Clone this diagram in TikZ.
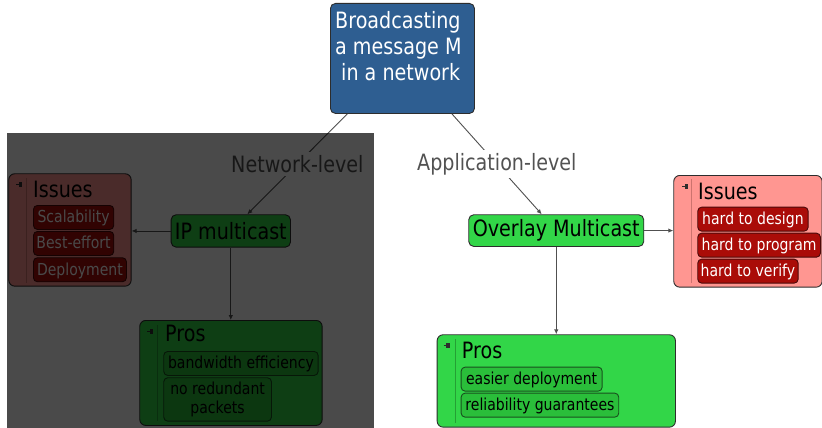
\documentclass[tikz,border=0pt]{standalone}
\usepackage{fontspec}
\setmainfont{DejaVu Sans}[FakeStretch=0.85]
\usetikzlibrary{arrows.meta}
\definecolor{rootblue}{RGB}{46,94,145}
\definecolor{mgreen}{RGB}{50,214,72}
\definecolor{igreen}{RGB}{42,190,58}
\definecolor{igreenb}{RGB}{25,80,30}
\definecolor{gline}{RGB}{36,160,52}
\definecolor{ipink}{RGB}{255,150,145}
\definecolor{pline}{RGB}{205,115,110}
\definecolor{ired}{RGB}{170,12,8}
\definecolor{iredb}{RGB}{75,10,10}
\definecolor{edgegrey}{RGB}{80,80,80}
\definecolor{bordergrey}{RGB}{45,45,45}
\definecolor{lblgrey}{RGB}{82,82,82}
\begin{document}
\begin{tikzpicture}[x=1pt,y=-1pt,
  bigfont/.style={font=\fontsize{22.5}{26}\selectfont},
  smallfont/.style={font=\fontsize{16.5}{18.5}\selectfont},
  mainbox/.style={draw=bordergrey, line width=0.9pt, rounded corners=5pt, inner sep=0pt, anchor=north west, bigfont},
  container/.style={draw=bordergrey, line width=0.9pt, rounded corners=6pt, inner sep=0pt, anchor=north west},
  itembase/.style={line width=0.9pt, rounded corners=4pt, inner sep=0pt, anchor=north west, smallfont},
  itemone/.style={itembase, text height=14pt, text depth=3pt, minimum height=24pt},
  reditem/.style={itemone, draw=iredb, fill=ired, text=white},
  greenitem/.style={itemone, draw=igreenb, fill=igreen, text=black},
  title/.style={anchor=base west, inner sep=0pt, bigfont},
  edge/.style={draw=edgegrey, line width=0.9pt, -{Latex[length=5pt,width=4.5pt]}},
  lbl/.style={fill=white, text=lblgrey, inner xsep=2pt, inner ysep=3pt, bigfont},
  mmicon/.pic={\fill[bordergrey] (-0.5,-2.5) rectangle (3,2.5); \draw[bordergrey, line width=1pt] (-3,0) -- (-0.5,0);}
]
\useasboundingbox (0,0) rectangle (822,428);
\fill[white] (0,0) rectangle (822,428);

% root
\node[mainbox, fill=rootblue, minimum width=144pt, minimum height=110pt] (root) at (330,3) {};
\node[anchor=north west, inner sep=0pt, align=left, text=white, bigfont] (roottext) at (335,11) {Broadcasting\\a message M\\\hspace*{6pt}in a network};

% level nodes
\node[mainbox, fill=mgreen, minimum width=119.3pt, minimum height=32.4pt] (ip) at (170.7,214.3) {IP multicast};
\node[mainbox, fill=mgreen, minimum width=175pt, minimum height=31.7pt] (ov) at (468.3,214.3) {Overlay Multicast};

\draw[edge] (root) -- node[lbl] (lnet) {Network-level} (ip);
\draw[edge] (root) -- node[lbl] (lapp) {Application-level} (ov);

% containers
\node[container, fill=ipink, minimum width=122.4pt, minimum height=112.4pt] (issL) at (8.3,173.3) {};
\node[container, fill=mgreen, minimum width=182.4pt, minimum height=105pt] (prosL) at (139.3,320) {};
\node[container, fill=ipink, minimum width=148.4pt, minimum height=111.7pt] (issR) at (673.3,175) {};
\node[container, fill=mgreen, minimum width=238.3pt, minimum height=92.4pt] (prosR) at (436.7,334.3) {};

\draw[edge] (ip.west) -- (ip.west -| issL.east);
\draw[edge] (ip.south) -- (ip.south |- prosL.north);
\draw[edge] (ov.east) -- (ov.east -| issR.west);
\draw[edge] (ov.south) -- (ov.south |- prosR.north);

% inner lines and icons
\draw[pline, line width=1pt] (26.7,178) -- (26.7,283);
\draw[gline, line width=1pt] (157.7,325) -- (157.7,421);
\draw[pline, line width=1pt] (691.7,179) -- (691.7,283);
\draw[gline, line width=1pt] (455,339) -- (455,423);
\pic at (19,184) {mmicon};
\pic at (150,331) {mmicon};
\pic at (685,186.7) {mmicon};
\pic at (446.7,345.7) {mmicon};

% titles
\node[title] (tissL) at (33,197) {Issues};
\node[title] (tprosL) at (165,341.7) {Pros};
\node[title] (tissR) at (698,199) {Issues};
\node[title] (tprosR) at (461.7,358.3) {Pros};

% left issues items
\node[reditem, minimum width=80.3pt] (s1) at (33,205) {Scalability};
\node[reditem, minimum width=80.3pt] (s2) at (33,231) {Best-effort};
\node[reditem, minimum width=93pt] (s3) at (33,257.3) {Deployment};

% left pros items
\node[greenitem, minimum width=154.4pt] (p1) at (163.3,351) {bandwidth efficiency};
\node[itembase, draw=igreenb, fill=igreen, align=center, minimum width=107.7pt, minimum height=43.4pt] (p2) at (163.3,377.3) {no redundant\\packets};

% right issues items
\node[reditem, minimum width=110.4pt] (h1) at (697.3,206.7) {hard to design};
\node[reditem, minimum width=122.7pt] (h2) at (697.3,232.7) {hard to program};
\node[reditem, minimum width=100.4pt] (h3) at (697.3,258.7) {hard to verify};

% right pros items
\node[greenitem, minimum width=141pt] (q1) at (460.7,366.7) {easier deployment};
\node[greenitem, minimum width=157.6pt] (q2) at (460.7,392.7) {reliability guarantees};

% dimming overlay
\fill[black, opacity=0.71] (7,133) rectangle (374,428);
\end{tikzpicture}
\end{document}
